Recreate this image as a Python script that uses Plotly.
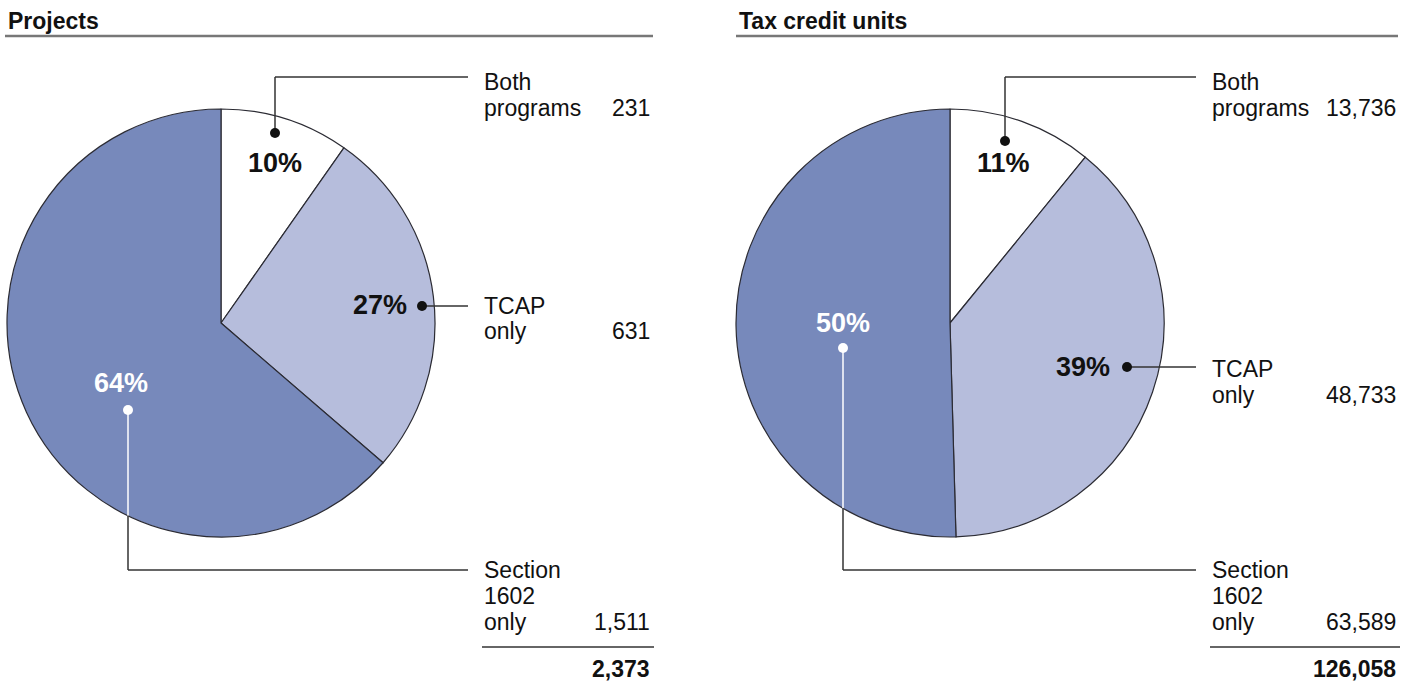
import plotly.graph_objects as go

W, H = 1413, 681

# ---- data ----
categories = ["Both programs", "TCAP only", "Section 1602 only"]
label_lines = [["Both", "programs"], ["TCAP", "only"], ["Section", "1602", "only"]]
projects = [231, 631, 1511]
units = [13736, 48733, 63589]
panel_titles = ["Projects", "Tax credit units"]

colors = ["#FFFFFF", "#B6BDDC", "#7789BB"]

FONT = "Liberation Sans, Arial, sans-serif"


def px(x):
    return x / W


def py(y):
    return 1 - y / H


fig = go.Figure()
shapes = []
annotations = []

# layout (pixel positions) per panel
panels = [
    dict(values=projects, title=panel_titles[0], cx=221, cy=323, r=214,
         title_x=6, rule=(5, 653), lab_x=482, num_x=652, lead_end=468,
         pct_pos=[(275, 163), (380, 305), (121, 383)],
         dots=[(275, 133), (422, 306), (128, 410)],
         label_y=[(82, 108), (306, 331), (570, 596, 622)]),
    dict(values=units, title=panel_titles[1], cx=950, cy=323, r=214,
         title_x=737, rule=(736, 1398), lab_x=1210, num_x=1398, lead_end=1196,
         pct_pos=[(1003, 163), (1083, 367), (843, 323)],
         dots=[(1005, 141), (1127, 367), (843, 348)],
         label_y=[(82, 108), (369, 395), (570, 596, 622)]),
]

LINE = "#333333"
LBL = 23

for p in panels:
    vals = p["values"]
    total = sum(vals)
    cx, cy, r = p["cx"], p["cy"], p["r"]
    fig.add_trace(go.Pie(
        values=vals, labels=categories, sort=False, direction="clockwise",
        rotation=0, textinfo="none", hoverinfo="label+value+percent",
        marker=dict(colors=colors, line=dict(color="#2B2B33", width=1.2)),
        domain=dict(x=[px(cx - r), px(cx + r)], y=[py(cy + r), py(cy - r)]),
        showlegend=False,
    ))

    # title and rule
    annotations.append(dict(x=px(p["title_x"]), y=py(21), xref="paper", yref="paper",
                            text=f"<b>{p['title']}</b>", showarrow=False,
                            xanchor="left", yanchor="middle",
                            font=dict(family=FONT, size=23, color="#111111")))
    shapes.append(dict(type="line", xref="paper", yref="paper",
                       x0=px(p["rule"][0]), x1=px(p["rule"][1]), y0=py(36), y1=py(36),
                       line=dict(color="#777777", width=2.5)))

    # percentages
    for i, v in enumerate(vals):
        pct = round(v / total * 100)
        x, y = p["pct_pos"][i]
        col = "#FFFFFF" if i == 2 else "#111111"
        annotations.append(dict(x=px(x), y=py(y), xref="paper", yref="paper",
                                text=f"<b>{pct}%</b>",
                                showarrow=False, xanchor="center", yanchor="middle",
                                font=dict(family=FONT, size=27, color=col)))

    # leader lines
    d0, d1, d2 = p["dots"]
    le = p["lead_end"]
    shapes.append(dict(type="line", xref="paper", yref="paper", x0=px(d0[0]), x1=px(d0[0]),
                       y0=py(d0[1]), y1=py(77), line=dict(color=LINE, width=1.5)))
    shapes.append(dict(type="line", xref="paper", yref="paper", x0=px(d0[0]), x1=px(le),
                       y0=py(77), y1=py(77), line=dict(color=LINE, width=1.5)))
    shapes.append(dict(type="line", xref="paper", yref="paper", x0=px(d1[0]), x1=px(le),
                       y0=py(d1[1]), y1=py(d1[1]), line=dict(color=LINE, width=1.5)))
    edge_y = cy + (r ** 2 - (d2[0] - cx) ** 2) ** 0.5
    shapes.append(dict(type="line", xref="paper", yref="paper", x0=px(d2[0]), x1=px(d2[0]),
                       y0=py(d2[1]), y1=py(edge_y), line=dict(color="#FFFFFF", width=1.5)))
    shapes.append(dict(type="line", xref="paper", yref="paper", x0=px(d2[0]), x1=px(d2[0]),
                       y0=py(edge_y), y1=py(570), line=dict(color=LINE, width=1.5)))
    shapes.append(dict(type="line", xref="paper", yref="paper", x0=px(d2[0]), x1=px(le),
                       y0=py(570), y1=py(570), line=dict(color=LINE, width=1.5)))
    for i, (dx, dy) in enumerate(p["dots"]):
        col = "#FFFFFF" if i == 2 else "#111111"
        shapes.append(dict(type="circle", xref="paper", yref="paper",
                           x0=px(dx - 5), x1=px(dx + 5), y0=py(dy + 5), y1=py(dy - 5),
                           fillcolor=col, line=dict(color=col, width=0)))

    # category labels and values
    for i, lines in enumerate(label_lines):
        ys = p["label_y"][i]
        for ln, yy in zip(lines, ys):
            annotations.append(dict(x=px(p["lab_x"]), y=py(yy), xref="paper", yref="paper",
                                    text=ln, showarrow=False, xanchor="left", yanchor="middle",
                                    font=dict(family=FONT, size=LBL, color="#111111")))
        annotations.append(dict(x=px(p["num_x"]), y=py(ys[-1]), xref="paper", yref="paper",
                                text=f"{vals[i]:,}", showarrow=False, xanchor="right",
                                yanchor="middle",
                                font=dict(family=FONT, size=LBL, color="#111111")))
    shapes.append(dict(type="line", xref="paper", yref="paper", x0=px(p["lab_x"]),
                       x1=px(p["num_x"] + 2), y0=py(647), y1=py(647),
                       line=dict(color="#666666", width=2)))
    annotations.append(dict(x=px(p["num_x"]), y=py(669), xref="paper", yref="paper",
                            text=f"<b>{total:,}</b>", showarrow=False, xanchor="right",
                            yanchor="middle",
                            font=dict(family=FONT, size=LBL, color="#111111")))

fig.update_layout(
    width=W, height=H, margin=dict(l=0, r=0, t=0, b=0),
    paper_bgcolor="#FFFFFF", plot_bgcolor="#FFFFFF",
    shapes=shapes, annotations=annotations,
)

fig.write_html("out.html", config={"displayModeBar": False},
               post_script="document.body.style.margin='0';document.body.style.overflow='hidden';")
